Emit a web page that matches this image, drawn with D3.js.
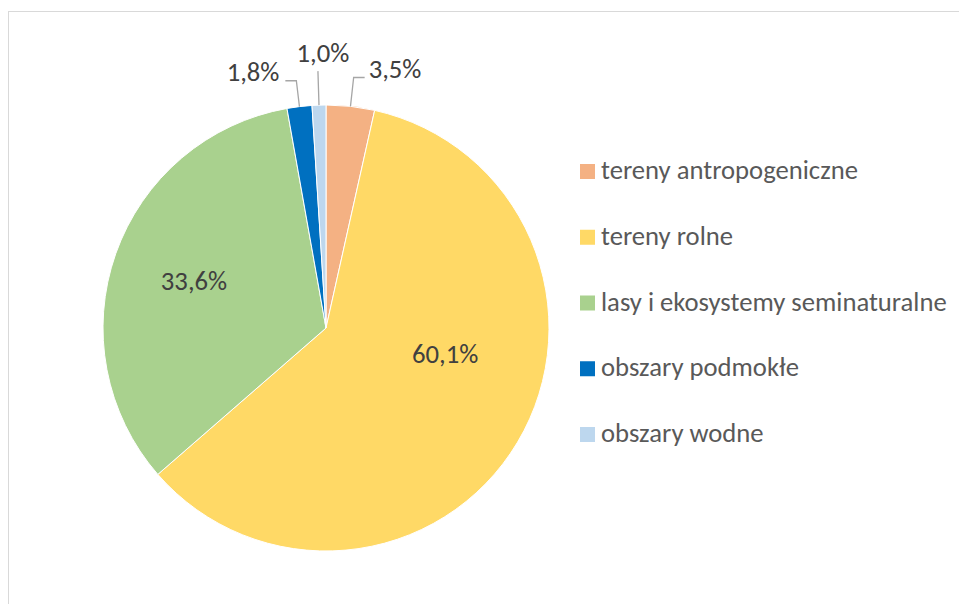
<!DOCTYPE html>
<html>
<head>
<meta charset="utf-8">
<script src="https://cdn.jsdelivr.net/npm/d3@7"></script>
<style>
  html, body { margin: 0; padding: 0; background: #fff; overflow: hidden; }
  svg { display: block; }
</style>
</head>
<body>
<svg id="chart" width="959" height="604"></svg>
<script>
// ---- data ----
const categories = [
  "tereny antropogeniczne",
  "tereny rolne",
  "lasy i ekosystemy seminaturalne",
  "obszary podmokłe",
  "obszary wodne"
];
const values = [3.5, 60.1, 33.6, 1.8, 1.0];
const valueLabels = ["3,5%", "60,1%", "33,6%", "1,8%", "1,0%"];
const colors = ["#F4B183", "#FFD966", "#A9D18E", "#0070C0", "#BDD7EE"];

// ---- layout ----
const W = 959, H = 604;
const cx = 326, cy = 328, R = 223;
const fontFamily = "Carlito, Calibri, Lato, 'Noto Sans', sans-serif";

const svg = d3.select("#chart");

// chart area border
svg.append("rect")
  .attr("x", 8.5).attr("y", 11.5)
  .attr("width", 1000).attr("height", 1000)
  .attr("fill", "#fff").attr("stroke", "#D9D9D9").attr("stroke-width", 1);

// font sizing: fit legend text width to reference
const probe = svg.append("text").attr("font-family", fontFamily).attr("font-size", 100)
  .text(categories[0]);
const w100 = probe.node().getComputedTextLength();
probe.remove();
const fs = Math.min(27, 100 * 257 / w100);

const data = categories.map((c, i) => ({ cat: c, value: values[i], label: valueLabels[i], color: colors[i] }));

const pie = d3.pie().value(d => d.value).sort(null);
const arcs = pie(data);
const arc = d3.arc().innerRadius(0).outerRadius(R);

const g = svg.append("g").attr("transform", `translate(${cx},${cy})`);

g.selectAll("path.slice").data(arcs).enter().append("path")
  .attr("class", "slice")
  .attr("d", arc)
  .attr("fill", d => d.data.color)
  .attr("stroke", "#fff")
  .attr("stroke-width", 1);

// label placement rules (radius multipliers / leader-line behaviour per slice)
const labelRules = [
  { type: "leader", elbowR: R + 29, side: 1, hLen: 11 },      // 3,5%
  { type: "inside", angle: 102.3, r: 122 },                   // 60,1%
  { type: "inside", angleMid: true, r: 140 },                 // 33,6%
  { type: "leader", elbowR: R + 26, side: -1, hLen: 11 },     // 1,8%
  { type: "leader", elbowR: R + 34, side: 0, hLen: 0 }        // 1,0%
];

const pt = (ang, r) => [r * Math.sin(ang), -r * Math.cos(ang)];

arcs.forEach((a, i) => {
  const rule = labelRules[i];
  const mid = (a.startAngle + a.endAngle) / 2;
  if (rule.type === "inside") {
    const ang = rule.angleMid ? mid : rule.angle * Math.PI / 180;
    const [x, y] = pt(ang, rule.r);
    g.append("text")
      .attr("x", x).attr("y", y)
      .attr("text-anchor", "middle").attr("dominant-baseline", "central")
      .attr("font-family", fontFamily).attr("font-size", fs)
      .attr("fill", "#404040")
      .text(a.data.label);
  } else {
    const [x0, y0] = pt(mid, R);
    const [x1, y1] = pt(mid, rule.elbowR);
    const x2 = x1 + rule.side * rule.hLen;
    g.append("polyline")
      .attr("points", `${x0},${y0} ${x1},${y1} ${x2},${y1}`)
      .attr("fill", "none").attr("stroke", "#A6A6A6").attr("stroke-width", 1.3);
    const t = g.append("text")
      .attr("font-family", fontFamily).attr("font-size", fs)
      .attr("fill", "#404040")
      .text(a.data.label);
    if (rule.side === 1) {
      t.attr("x", x2 + 4).attr("y", y1).attr("text-anchor", "start");
    } else if (rule.side === -1) {
      t.attr("x", x2 - 6).attr("y", y1).attr("text-anchor", "end");
    } else {
      t.attr("x", x1 + 5).attr("y", y1 - 9).attr("text-anchor", "middle");
    }
  }
});

// legend
const legendY = d3.scalePoint().domain(categories).range([171.5, 434.5]);
const lg = svg.append("g");
const items = lg.selectAll("g.item").data(data).enter().append("g").attr("class", "item")
  .attr("transform", d => `translate(580,${legendY(d.cat)})`);
items.append("rect")
  .attr("x", 0).attr("y", -7.5).attr("width", 15).attr("height", 15)
  .attr("fill", d => d.color);
items.append("text")
  .attr("x", 21).attr("y", 7.5)
  .attr("font-family", fontFamily).attr("font-size", fs)
  .attr("fill", "#595959")
  .text(d => d.cat);
</script>
</body>
</html>
